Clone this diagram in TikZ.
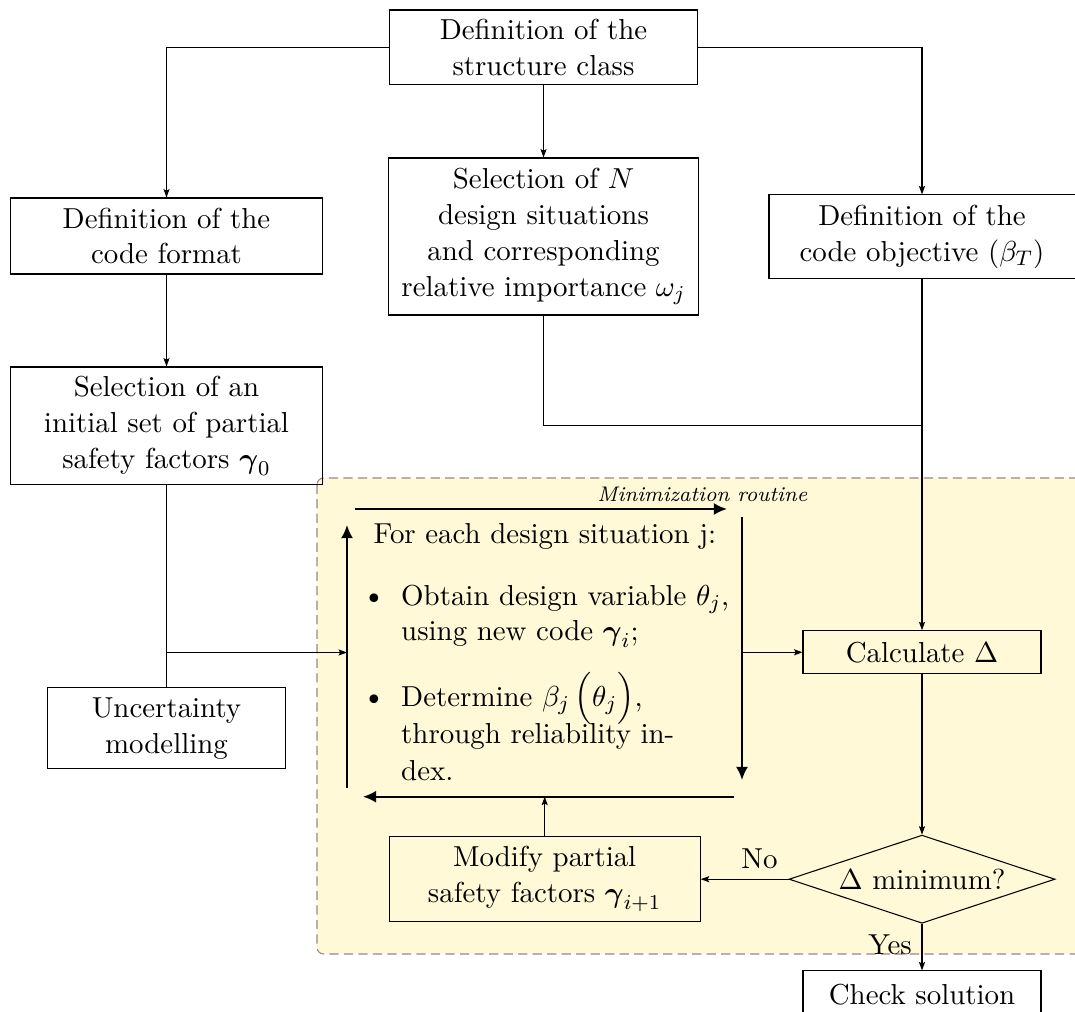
\documentclass[11pt,tikz,border=0pt]{standalone}
\usepackage{amsmath}
\usetikzlibrary{arrows.meta,shapes.geometric}
\definecolor{routinebg}{RGB}{255,249,215}
\definecolor{routineborder}{RGB}{140,140,140}
\begin{document}
\begin{tikzpicture}[x=0.379pt,y=-0.379pt,
  box/.style={draw, rectangle, align=center, inner sep=2pt, line width=0.4pt},
  arr/.style={-{Stealth[length=3.2pt,width=2.3pt,inset=0.6pt]}, line width=0.4pt},
  looparrow/.style={-{Latex[length=5pt,width=4.6pt]}, line width=0.8pt},
  txt/.style={inner sep=0pt, anchor=base west},
  bulletmark/.style={inner sep=0pt, anchor=base, font=\scriptsize},
  region/.style={draw=routineborder, fill=routinebg, dash pattern=on 3.5pt off 2pt, rounded corners=2.5pt, line width=0.4pt}]
\useasboundingbox (0,0) rectangle (1075,1012);
\clip (0,0) rectangle (1075,1012);

% background region of the minimization routine
\path[region] (317,478) rectangle (1100,954);

% boxes
\node[box, minimum width=116.7pt, minimum height=28.4pt] (S) at (543.5,47.5) {Definition of the\\structure class};
\node[box, minimum width=117.9pt, minimum height=28.8pt] (F) at (166.5,236) {Definition of the\\code format};
\node[box, minimum width=117.5pt, minimum height=59.5pt] (N) at (543.5,236.5) {Selection of $N$\\design situations\\and corresponding\\relative importance $\omega_j$};
\node[box, minimum width=116.0pt, minimum height=31.5pt] (O) at (922,236.5) {Definition of the\\code objective ($\beta_T$)};
\node[box, minimum width=117.9pt, minimum height=44.7pt] (G) at (166.5,426) {Selection of an\\initial set of partial\\safety factors $\boldsymbol{\gamma}_0$};
\node[box, minimum width=90.2pt, minimum height=30.7pt] (U) at (166.5,728.3) {Uncertainty\\modelling};
\node[box, minimum width=90.2pt, minimum height=16.3pt] (C) at (922,652.3) {Calculate $\Delta$};
\node[draw, diamond, aspect=3, inner sep=0pt, line width=0.4pt, minimum width=100.8pt, minimum height=33.4pt] (D) at (922,879.2) {$\Delta$ minimum?};
\node[box, minimum width=117.9pt, minimum height=32.2pt] (M) at (544.7,879.2) {Modify partial\\safety factors $\boldsymbol{\gamma}_{i+1}$};
\node[box, minimum width=90.2pt, minimum height=18pt] (K) at (922,994.7) {Check solution};

% loop coordinates
\coordinate (TL1) at (355,509);
\coordinate (TL2) at (727,509);
\coordinate (RL1) at (742,516.7);
\coordinate (RL2) at (742,780);
\coordinate (BL1) at (734,796.7);
\coordinate (BL2) at (363,796.7);
\coordinate (LL1) at (347,788);
\coordinate (LL2) at (347,525);
\coordinate (J1) at (166.5,652.5);
\coordinate (J2) at (922,425.7);

% loop arrows
\draw[looparrow] (TL1) -- (TL2);
\draw[looparrow] (RL1) -- (RL2);
\draw[looparrow] (BL1) -- (BL2);
\draw[looparrow] (LL1) -- (LL2);
\node[anchor=base, inner sep=0pt, font=\scriptsize\itshape] (MR) at (702.3,501.7) {Minimization routine};

% loop content
\node[txt] (L1) at (373,544) {For each design situation j:};
\node[bulletmark] (B1) at (374,603) {$\bullet$};
\node[txt] (L2) at (400.7,605) {Obtain design variable $\theta_j$,};
\node[txt] (L3) at (400.7,640.7) {using new code $\boldsymbol{\gamma}_i$;};
\node[bulletmark] (B2) at (374,704) {$\bullet$};
\node[txt] (L4) at (400.7,706) {Determine $\beta_j\,\smash{\Bigl(\theta_j\Bigr)}$,};
\node[txt] (L5) at (400.7,743) {through reliability in-};
\node[txt] (L6) at (400.7,780) {dex.};

% connectors
\draw[arr] (S.west) -| (F.north);
\draw[arr] (S.south) -- (N.north);
\draw[arr] (S.east) -| (O.north);
\draw[arr] (F.south) -- (G.north);
\draw (G.south) -- (U.north);
\draw[arr] (J1) -- (J1 -| LL1);
\draw (N.south) |- (J2);
\draw[arr] (O.south) -- (C.north);
\draw[arr] (RL1 |- C.west) -- (C.west);
\draw[arr] (C.south) -- (D.north);
\draw[arr] (D.west) -- node[above, pos=0.33] {No} (M.east);
\draw[arr] (M.north) -- (M.north |- BL1);
\draw[arr] (D.south) -- node[left, pos=0.46] {Yes} (K.north);
\end{tikzpicture}
\end{document}
